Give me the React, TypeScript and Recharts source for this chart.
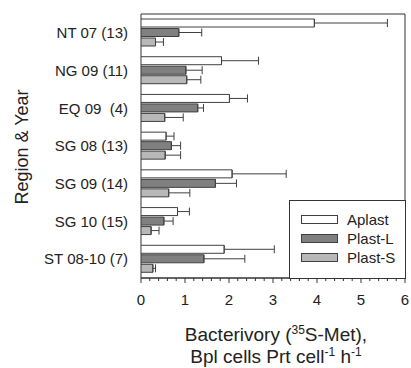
import { BarChart, Bar, XAxis, YAxis, ErrorBar, ReferenceArea } from 'recharts';

// Region & year categories (n in parentheses)
const regions = ['NT 07 (13)', 'NG 09 (11)', 'EQ 09 \u00a0(4)', 'SG 08 (13)', 'SG 09 (14)', 'SG 10 (15)', 'ST 08-10 (7)'];

// mean bacterivory and upper end of error bar
const aplast = [3.94, 1.83, 2.01, 0.57, 2.07, 0.83, 1.89];
const aplastTop = [5.6, 2.67, 2.42, 0.75, 3.3, 1.1, 3.03];
const plastL = [0.86, 1.02, 1.29, 0.69, 1.69, 0.52, 1.43];
const plastLTop = [1.38, 1.39, 1.42, 0.9, 2.17, 0.73, 2.36];
const plastS = [0.33, 1.04, 0.54, 0.55, 0.63, 0.23, 0.27];
const plastSTop = [0.51, 1.36, 0.96, 0.9, 1.11, 0.41, 0.33];

const majorTicks = [0, 1, 2, 3, 4, 5, 6];
const allTicks = Array.from({ length: 31 }, (_, i) => Math.round(i * 2) / 10);

const series = [
  { key: 'aplast', name: 'Aplast', fill: '#ffffff' },
  { key: 'plastL', name: 'Plast-L', fill: '#808080' },
  { key: 'plastS', name: 'Plast-S', fill: '#b8b8b8' },
];

// one-sided error bars: [lower, upper]
const data = regions.map((name, i) => ({
  name,
  aplast: aplast[i],
  aplastErr: [0, aplastTop[i] - aplast[i]],
  plastL: plastL[i],
  plastLErr: [0, plastLTop[i] - plastL[i]],
  plastS: plastS[i],
  plastSErr: [0, plastSTop[i] - plastS[i]],
}));

const FONT = 'Arial, "Liberation Sans", sans-serif';
const INK = '#333';

const XTick = ({ x, y, payload }: any) => {
  const major = majorTicks.includes(payload.value);
  return (
    <g>
      <line x1={x} x2={x} y1={y} y2={y + (major ? 5 : 3)} stroke={INK} />
      {major && (
        <text x={x} y={y + 27} textAnchor="middle" fontSize={15} fill="#222" fontFamily={FONT}>
          {payload.value}
        </text>
      )}
    </g>
  );
};

const LegendBox = () => (
  <div
    style={{
      position: 'absolute',
      left: 289,
      top: 200,
      border: '1px solid ' + INK,
      width: 117,
      height: 79,
      boxSizing: 'border-box',
      background: '#fff',
      fontFamily: FONT,
      fontSize: 15,
      color: '#222',
      paddingTop: 9,
    }}
  >
    {series.map((s) => (
      <div key={s.key} style={{ display: 'flex', alignItems: 'center', height: 19, paddingLeft: 11 }}>
        <span style={{ width: 35, height: 7, background: s.fill, border: '1px solid #404040', marginRight: 9 }} />
        <span>{s.name}</span>
      </div>
    ))}
  </div>
);

const App = () => {
  return (
    <div style={{ position: 'absolute', left: 0, top: 0, width: 411, height: 368, background: '#fff' }}>
      <BarChart
        width={411}
        height={368}
        data={data}
        layout="vertical"
        margin={{ top: 14, right: 6, bottom: 60, left: 0 }}
        barSize={8}
        barGap={1.5}
      >
        <XAxis
          type="number"
          domain={[0, 6]}
          ticks={allTicks}
          interval={0}
          allowDataOverflow
          tickLine={false}
          tickSize={0}
          tickMargin={0}
          tick={<XTick />}
          stroke={INK}
          height={30}
        />
        <YAxis
          type="category"
          dataKey="name"
          width={141}
          tickLine={false}
          axisLine={false}
          tickSize={0}
          tickMargin={13}
          tick={{ fontSize: 15, fill: '#222', fontFamily: FONT }}
        />
        <ReferenceArea x1={0} x2={6} fill="none" stroke={INK} strokeWidth={1} ifOverflow="visible" />
        {series.map((s) => (
          <Bar key={s.key} dataKey={s.key} name={s.name} fill={s.fill} stroke="#404040" strokeWidth={1} isAnimationActive={false}>
            <ErrorBar dataKey={s.key + 'Err'} direction="x" width={4} stroke="#404040" strokeWidth={1} />
          </Bar>
        ))}
      </BarChart>
      <LegendBox />
      <svg width={411} height={368} style={{ position: 'absolute', left: 0, top: 0, pointerEvents: 'none' }}>
        <text
          x={0}
          y={0}
          transform="translate(28,147) rotate(-90)"
          textAnchor="middle"
          fontSize={18}
          fill="#222"
          fontFamily={FONT}
        >
          Region &amp; Year
        </text>
        <text x={276} y={341} textAnchor="middle" fontSize={19} fill="#222" fontFamily={FONT}>
          Bacterivory (<tspan dy={-7} fontSize={12}>35</tspan>
          <tspan dy={7}>S-Met),</tspan>
        </text>
        <text x={276} y={363} textAnchor="middle" fontSize={19} fill="#222" fontFamily={FONT}>
          Bpl cells Prt cell<tspan dy={-7} fontSize={12}>-1</tspan>
          <tspan dy={7}> h</tspan>
          <tspan dy={-7} fontSize={12}>-1</tspan>
        </text>
      </svg>
    </div>
  );
};

export default App;
